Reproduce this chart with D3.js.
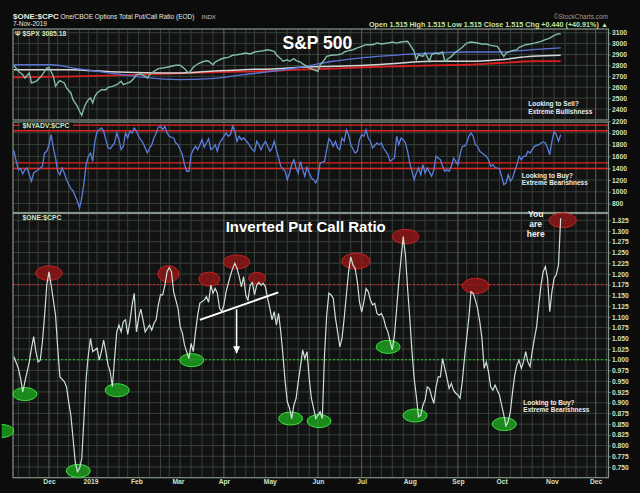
<!DOCTYPE html>
<html>
<head>
<meta charset="utf-8">
<script src="https://cdn.jsdelivr.net/npm/d3@7"></script>
<style>
  body { margin: 0; background: #0c0c0c; }
  svg { display: block; font-family: "Liberation Sans", Arial, sans-serif; }
</style>
</head>
<body>
<svg id="chart" width="640" height="493"></svg>
<script>
// trading calendar (x axis is trading days, StockCharts style)
const firstDay = "2018-11-08";
const lastDay = "2019-12-13";
const holidays = ["2018-11-22", "2018-12-05", "2018-12-25", "2019-01-01", "2019-01-21", "2019-02-18",
  "2019-04-19", "2019-05-27", "2019-07-04", "2019-09-02", "2019-11-28"];

// $SPX close, [trading day, value]
const spxClose = [[0,2801],[2,2746],[4,2715],[5,2684],[7,2730],[8,2639],[10,2654],[11,2669],[13,2715],[14,2746],
  [15,2776],[16,2783],[18,2700],[19,2608],[20,2639],[21,2660],[23,2639],[24,2593],[26,2547],[27,2485],[29,2425],
  [30,2379],[31,2342],[32,2409],[33,2455],[34,2485],[35,2501],[36,2455],[37,2517],[38,2547],[40,2577],[42,2577],
  [43,2599],[45,2608],[47,2623],[49,2654],[50,2623],[52,2639],[53,2645],[55,2684],[56,2715],[58,2721],[60,2700],
  [61,2684],[62,2715],[64,2746],[66,2770],[68,2776],[70,2783],[72,2792],[74,2801],[76,2801],[78,2770],[79,2746],
  [80,2730],[82,2783],[84,2813],[86,2831],[88,2843],[89,2838],[91,2806],[92,2831],[94,2852],[96,2868],[98,2874],
  [100,2893],[102,2898],[104,2905],[106,2914],[108,2905],[110,2923],[112,2929],[114,2935],[116,2944],[119,2929],
  [120,2898],[122,2862],[123,2838],[125,2852],[126,2838],[128,2862],[129,2843],[131,2831],[132,2813],[134,2792],
  [135,2776],[139,2746],[140,2806],[142,2852],[143,2883],[145,2893],[148,2898],[150,2905],[151,2923],[153,2935],
  [155,2944],[157,2960],[159,2975],[161,2990],[164,2990],[166,3005],[168,2996],[171,3005],[173,3015],[175,3005],
  [177,3015],[180,3021],[181,2990],[183,2929],[184,2852],[185,2898],[187,2883],[188,2914],[190,2838],[191,2898],
  [193,2914],[194,2905],[196,2923],[197,2838],[199,2868],[200,2883],[202,2923],[203,2935],[205,2966],[207,3005],
  [209,3015],[212,3005],[214,2996],[216,2996],[218,2984],[221,2975],[222,2944],[224,2883],[225,2914],[227,2929],
  [228,2935],[230,2944],[231,2966],[234,2990],[236,2996],[238,3005],[241,3021],[243,3036],[245,3051],[247,3076],
  [248,3082],[249,3091],[250,3085]];
const spxMaBlue = [[0,2806],[17,2806],[29,2770],[44,2730],[59,2691],[75,2669],[90,2678],[105,2715],[120,2751],
  [131,2783],[146,2838],[161,2874],[177,2898],[192,2914],[207,2923],[222,2923],[237,2944],[250,2960]];
const spxMaWhite = [[0,2761],[26,2761],[44,2742],[60,2733],[75,2730],[90,2746],[105,2761],[120,2770],[131,2783],
  [146,2792],[161,2801],[177,2822],[192,2838],[207,2838],[222,2852],[237,2883],[250,2893]];
const spxMaRed = [[0,2691],[29,2700],[59,2715],[90,2737],[120,2751],[131,2761],[146,2770],[161,2783],[177,2792],
  [192,2801],[207,2806],[222,2822],[237,2838],[250,2840]];
const spxTicks = [2400, 2500, 2600, 2700, 2800, 2900, 3000, 3100];

// $NYADV:$CPC
const nyadvCpc = [[0,1697],[1,1517],[2,1375],[3,1392],[4,1302],[5,1375],[6,1403],[7,1290],[8,1178],[9,1319],
  [11,1375],[12,1403],[13,1432],[14,1658],[15,1686],[16,1798],[17,1968],[18,1742],[19,1573],[20,1347],[21,1290],
  [22,1403],[23,1319],[24,1205],[26,1053],[27,1019],[28,924],[29,839],[30,725],[31,895],[32,1149],[33,1459],
  [34,1602],[35,1658],[36,1517],[37,1856],[38,2025],[40,2081],[41,2025],[42,1883],[43,1742],[44,1731],[46,1827],
  [47,1997],[48,1883],[49,1714],[50,1771],[51,1997],[52,1912],[53,2025],[54,1997],[55,2081],[56,2025],[57,1941],
  [59,1827],[60,1742],[61,1658],[62,1742],[63,1798],[64,1912],[65,1997],[66,2093],[67,2110],[68,2053],[69,2110],
  [70,1997],[71,1941],[73,1912],[74,1827],[75,1798],[76,1714],[77,1629],[78,1459],[79,1347],[80,1347],[81,1629],
  [82,1714],[83,1771],[84,1714],[85,1798],[86,1883],[87,1754],[88,1827],[89,1900],[90,1714],[91,1742],[92,1798],
  [93,1686],[94,1827],[95,1883],[97,1997],[98,1941],[99,1968],[100,2110],[101,2025],[102,1856],[103,1941],
  [104,1883],[105,1912],[107,1827],[108,1771],[109,1714],[110,1686],[111,1856],[112,1798],[113,1714],[114,1798],
  [115,1856],[116,1771],[117,1686],[118,1742],[119,1856],[120,1714],[121,1573],[122,1432],[124,1347],[125,1205],
  [126,1319],[127,1459],[128,1544],[129,1403],[130,1319],[131,1517],[132,1375],[133,1263],[134,1415],[135,1319],
  [136,1234],[137,1205],[138,1149],[139,1234],[140,1488],[142,1517],[143,1714],[144,1900],[145,1856],[146,1771],
  [147,1856],[148,1742],[149,1714],[150,1912],[151,1856],[152,2053],[153,1968],[154,1798],[156,1658],[157,1686],
  [158,1883],[159,1968],[160,1941],[161,2053],[162,1912],[163,1856],[164,1742],[166,1827],[167,1798],[168,1827],
  [169,1742],[170,1686],[171,1629],[172,1517],[174,1573],[175,1941],[176,1798],[177,1912],[178,1883],[179,1827],
  [180,1686],[181,1488],[182,1347],[183,1205],[184,1319],[185,1403],[186,1290],[187,1459],[188,1319],[189,1403],
  [191,1263],[192,1375],[193,1602],[194,1573],[195,1544],[196,1432],[197,1347],[198,1375],[199,1347],[200,1432],
  [201,1573],[202,1517],[203,1459],[204,1629],[205,1771],[206,1771],[207,1827],[208,1941],[209,1997],[210,1941],
  [211,1798],[212,1771],[213,1686],[215,1629],[216,1602],[217,1544],[218,1432],[219,1459],[220,1415],[221,1403],
  [222,1392],[223,1263],[224,1120],[225,1149],[226,1290],[227,1178],[228,1234],[229,1347],[230,1459],[231,1602],
  [232,1544],[233,1602],[234,1602],[235,1686],[236,1658],[237,1714],[238,1771],[240,1798],[241,1827],[242,1844],
  [243,1827],[244,1742],[245,1629],[246,1856],[247,2025],[248,1968],[249,1856],[250,1968]];
const nyadvLevels = [2130, 2035, 1490, 1395];
const nyadvTicks = [800, 1000, 1200, 1400, 1600, 1800, 2000, 2200];

// $ONE:$CPC (inverted put/call ratio)
const oneCpc = [[0,1.007],[2,0.980],[3,0.957],[4,0.925],[5,0.949],[7,0.995],[8,1.027],[9,1.054],[10,1.019],
  [11,0.995],[12,0.999],[13,1.042],[14,1.104],[15,1.174],[16,1.205],[17,1.174],[19,1.104],[20,1.027],[21,0.960],
  [23,0.949],[24,0.937],[25,0.902],[26,0.871],[27,0.817],[28,0.762],[29,0.739],[30,0.747],[31,0.770],[32,0.863],
  [33,0.957],[34,1.011],[35,1.050],[36,1.019],[38,1.027],[39,0.999],[40,1.019],[41,1.046],[42,1.019],[43,0.988],
  [44,0.972],[45,0.937],[46,1.003],[47,1.065],[48,1.081],[49,1.065],[50,1.089],[51,1.093],[52,1.059],[53,1.089],
  [54,1.128],[55,1.155],[56,1.065],[57,1.097],[58,1.118],[59,1.093],[60,1.065],[62,1.081],[63,1.069],[64,1.085],
  [65,1.093],[66,1.128],[67,1.151],[68,1.151],[69,1.174],[70,1.205],[71,1.215],[72,1.205],[73,1.159],[75,1.120],
  [76,1.077],[77,1.062],[78,1.034],[80,1.003],[81,1.038],[82,1.019],[83,1.065],[84,1.104],[85,1.132],[87,1.139],
  [88,1.147],[89,1.134],[90,1.174],[91,1.155],[92,1.166],[93,1.155],[94,1.120],[95,1.112],[96,1.128],[97,1.159],
  [99,1.197],[100,1.213],[101,1.225],[102,1.213],[103,1.194],[104,1.170],[105,1.194],[106,1.151],[107,1.139],
  [108,1.174],[109,1.180],[110,1.151],[111,1.174],[112,1.180],[113,1.174],[114,1.178],[115,1.170],[116,1.143],
  [117,1.120],[118,1.093],[119,1.112],[120,1.081],[121,1.108],[122,1.065],[123,1.011],[124,0.949],[125,0.902],
  [126,0.887],[127,0.863],[128,0.894],[129,0.910],[130,0.949],[131,0.984],[132,1.023],[133,1.003],[134,1.019],
  [135,0.957],[136,0.910],[137,0.887],[138,0.863],[140,0.879],[141,0.863],[142,1.011],[143,1.104],[144,1.155],
  [145,1.151],[146,1.143],[147,1.097],[148,1.065],[149,1.030],[150,1.050],[151,1.097],[152,1.151],[153,1.205],
  [154,1.240],[155,1.221],[156,1.213],[157,1.182],[158,1.135],[159,1.111],[160,1.135],[161,1.166],[162,1.159],
  [163,1.139],[164,1.128],[165,1.131],[166,1.108],[167,1.104],[168,1.108],[169,1.097],[170,1.077],[171,1.065],
  [172,1.042],[173,1.023],[174,1.058],[175,1.120],[176,1.182],[177,1.236],[178,1.287],[179,1.244],[180,1.166],
  [181,1.097],[182,1.019],[183,0.957],[184,0.914],[185,0.867],[186,0.871],[187,0.894],[188,0.906],[189,0.937],
  [190,0.933],[191,0.914],[192,0.898],[193,0.937],[194,0.960],[195,0.960],[196,1.003],[197,0.980],[198,0.957],
  [199,0.933],[200,0.945],[201,0.929],[202,0.922],[203,0.918],[204,0.910],[205,0.949],[206,1.003],[207,1.050],
  [208,1.097],[209,1.159],[210,1.155],[211,1.139],[212,1.120],[213,1.089],[214,1.050],[215,0.980],[216,0.995],
  [217,0.972],[218,0.937],[219,0.929],[220,0.941],[221,0.929],[222,0.918],[223,0.894],[224,0.871],[225,0.846],
  [226,0.856],[227,0.879],[228,0.925],[229,0.964],[230,0.988],[231,0.999],[232,0.980],[233,0.995],[234,1.019],
  [235,0.995],[236,0.984],[237,1.019],[238,1.050],[239,1.077],[240,1.128],[241,1.174],[242,1.205],[243,1.217],
  [244,1.190],[245,1.112],[246,1.159],[247,1.190],[248,1.198],[249,1.221],[250,1.330]];
const oneSellLevel = 1.175;
const oneBuyLevel = 1.000;
const oneTicks = [0.750, 0.775, 0.800, 0.825, 0.850, 0.875, 0.900, 0.925, 0.950, 0.975, 1.000, 1.025, 1.050,
  1.075, 1.100, 1.125, 1.150, 1.175, 1.200, 1.225, 1.250, 1.275, 1.300, 1.325];

// annotations drawn on the put/call panel
const sellMarks = [[16.0,1.202],[70.6,1.200],[89.3,1.188],[101.8,1.228],[111.2,1.190],[156.4,1.230],[179.1,1.287],
  [211.1,1.172],[250.9,1.325]];
const sellMarkSize = [[13.3,7.3],[10.5,8.3],[10.5,7],[13.3,7],[8.5,5.8],[14.3,8],[13.3,7.3],[13.3,7.7],[13.7,7.3]];
const buyMarks = [[5.0,0.920],[29.4,0.741],[47.2,0.929],[81.3,0.999],[126.5,0.863],[139.5,0.857],[171.1,1.030],
  [183.4,0.870],[224.2,0.850],[-5.6,0.834]];
const trendLine = [[85.0,1.093],[120.9,1.157]];
const arrowLine = [[101.8,1.118],[101.8,1.015]];

const X0 = 13, X1 = 608.5;
const BG = "#121212", GRID = "#35403a", GRID_MONTH = "#56665b", BORDER = "#84968a", LABEL = "#cfe3c6";

// build trading days
const tradingDays = [];
for (let d = new Date(firstDay + "T00:00:00Z"); d <= new Date(lastDay + "T00:00:00Z"); d.setUTCDate(d.getUTCDate() + 1)) {
  const wd = d.getUTCDay();
  const iso = d.toISOString().slice(0, 10);
  if (wd > 0 && wd < 6 && !holidays.includes(iso)) tradingDays.push(new Date(d));
}
const monthStarts = [], weekStarts = [];
tradingDays.forEach((d, i) => {
  if (i === 0) return;
  const p = tradingDays[i - 1];
  if (d.getUTCMonth() !== p.getUTCMonth()) monthStarts.push(i);
  if (d.getUTCDay() < p.getUTCDay() || d - p > 3 * 864e5) weekStarts.push(i);
});
const monthFmt = i => tradingDays[i].getUTCMonth() === 0 ? String(tradingDays[i].getUTCFullYear())
  : d3.utcFormat("%b")(tradingDays[i]);

const svg = d3.select("#chart");
svg.append("rect").attr("width", 640).attr("height", 493).attr("fill", "#0c0c0c");

const x = d3.scaleLinear().domain([-0.45, 272.1]).range([X0, 609]);

let clipId = 0;
function makePanel(y0, y1, domain, ticks, fmt) {
  const y = d3.scaleLinear().domain(domain).range([y1, y0]);
  const g = svg.append("g");
  const id = "clip" + (clipId++);
  svg.append("clipPath").attr("id", id).append("rect")
    .attr("x", X0).attr("y", y0).attr("width", X1 - X0).attr("height", y1 - y0);
  g.append("rect").attr("x", X0).attr("y", y0).attr("width", X1 - X0).attr("height", y1 - y0).attr("fill", BG);
  const grid = g.append("g").attr("clip-path", `url(#${id})`);
  grid.selectAll(".h").data(ticks).join("line")
    .attr("x1", X0).attr("x2", X1).attr("y1", d => y(d)).attr("y2", d => y(d))
    .attr("stroke", GRID).attr("stroke-width", 1);
  grid.selectAll(".v").data(weekStarts).join("line")
    .attr("x1", d => x(d)).attr("x2", d => x(d)).attr("y1", y0).attr("y2", y1)
    .attr("stroke", d => monthStarts.includes(d) ? GRID_MONTH : GRID).attr("stroke-width", 1);
  const plot = g.append("g").attr("clip-path", `url(#${id})`);
  g.append("rect").attr("x", X0).attr("y", y0).attr("width", X1 - X0).attr("height", y1 - y0)
    .attr("fill", "none").attr("stroke", BORDER).attr("stroke-width", 1.2);
  const ax = svg.append("g").attr("transform", `translate(${X1},0)`)
    .call(d3.axisRight(y).tickValues(ticks).tickFormat(fmt).tickSize(2).tickPadding(1.5));
  ax.select(".domain").remove();
  ax.selectAll("line").attr("stroke", BORDER);
  ax.selectAll("text").attr("fill", LABEL).attr("font-size", 6.7).attr("font-weight", "bold");
  return {y, g, plot, clip: id};
}

const line = (y, curve) => d3.line().x(d => x(d[0])).y(d => y(d[1])).curve(curve || d3.curveLinear);

// ---- top panel: S&P 500
const spxP = makePanel(29, 120, [2299, 3134], spxTicks, d3.format("d"));
spxP.plot.append("path").datum(spxMaRed).attr("d", line(spxP.y, d3.curveMonotoneX))
  .attr("fill", "none").attr("stroke", "#d82020").attr("stroke-width", 1.8);
spxP.plot.append("path").datum(spxMaWhite).attr("d", line(spxP.y, d3.curveMonotoneX))
  .attr("fill", "none").attr("stroke", "#d6d6d6").attr("stroke-width", 1.5);
spxP.plot.append("path").datum(spxMaBlue).attr("d", line(spxP.y, d3.curveMonotoneX))
  .attr("fill", "none").attr("stroke", "#5a74d6").attr("stroke-width", 1.3);
spxP.plot.append("path").datum(spxClose).attr("d", line(spxP.y))
  .attr("fill", "none").attr("stroke", "#82bab0").attr("stroke-width", 1.4);
spxP.g.append("text").attr("x", 15).attr("y", 35.5).attr("fill", LABEL).attr("font-size", 6.8)
  .attr("font-weight", "bold").text("\u03A8 $SPX 3085.18");
spxP.g.append("text").attr("x", 282.5).attr("y", 48.7).attr("fill", "#ffffff").attr("font-size", 17.5)
  .attr("font-weight", "bold").text("S&P 500");
spxP.g.append("text").attr("x", 528.3).attr("y", 106.3).attr("fill", "#ececec").attr("font-size", 6.5)
  .attr("font-weight", "bold").text("Looking to Sell?");
spxP.g.append("text").attr("x", 528.3).attr("y", 114).attr("fill", "#ececec").attr("font-size", 6.5)
  .attr("font-weight", "bold").text("Extreme Bullishness");

// ---- middle panel: $NYADV:$CPC
const advP = makePanel(122, 212.5, [649, 2183], nyadvTicks, d3.format("d"));
advP.plot.selectAll(".lvl").data(nyadvLevels).join("line")
  .attr("x1", X0).attr("x2", X1).attr("y1", d => advP.y(d)).attr("y2", d => advP.y(d))
  .attr("stroke", "#e0261e").attr("stroke-width", 1.3);
advP.plot.append("path").datum(nyadvCpc).attr("d", line(advP.y))
  .attr("fill", "none").attr("stroke", "#5b7fdc").attr("stroke-width", 1.3);
advP.g.append("rect").attr("x", 20).attr("y", 122.6).attr("width", 53).attr("height", 6.4).attr("fill", BG);
advP.g.append("text").attr("x", 22.5).attr("y", 128).attr("fill", LABEL).attr("font-size", 6.8)
  .attr("font-weight", "bold").text("$NYADV:$CPC");
advP.g.append("text").attr("x", 521.7).attr("y", 178).attr("fill", "#ececec").attr("font-size", 6.5)
  .attr("font-weight", "bold").text("Looking to Buy?");
advP.g.append("text").attr("x", 521.7).attr("y", 185.3).attr("fill", "#ececec").attr("font-size", 6.5)
  .attr("font-weight", "bold").text("Extreme Bearishness");

// ---- bottom panel: inverted put/call ratio
const oneP = makePanel(213.5, 477.7, [0.7251, 1.3409], oneTicks, d3.format(".3f"));
oneP.plot.append("line").attr("x1", X0).attr("x2", X1)
  .attr("y1", oneP.y(oneSellLevel)).attr("y2", oneP.y(oneSellLevel))
  .attr("stroke", "#e02424").attr("stroke-width", 1).attr("stroke-dasharray", "2,2");
oneP.plot.append("line").attr("x1", X0).attr("x2", X1)
  .attr("y1", oneP.y(oneBuyLevel)).attr("y2", oneP.y(oneBuyLevel))
  .attr("stroke", "#22c422").attr("stroke-width", 1).attr("stroke-dasharray", "2,2");

const marks = svg.append("g");
svg.append("clipPath").attr("id", "edgeclip").append("rect").attr("x", 1.7).attr("y", 0).attr("width", 640).attr("height", 493);
marks.selectAll(".sell").data(sellMarks).join("ellipse")
  .attr("cx", d => x(d[0])).attr("cy", d => oneP.y(d[1]))
  .attr("rx", (d, i) => sellMarkSize[i][0]).attr("ry", (d, i) => sellMarkSize[i][1])
  .attr("fill", "#8c1616").attr("fill-opacity", 0.85).attr("stroke", "#c42222").attr("stroke-width", 1);
marks.selectAll(".buy").data(buyMarks).join("ellipse")
  .attr("clip-path", "url(#edgeclip)")
  .attr("cx", d => x(d[0])).attr("cy", d => oneP.y(d[1]))
  .attr("rx", 12).attr("ry", 6.5)
  .attr("fill", "#1d9e1d").attr("fill-opacity", 0.85).attr("stroke", "#3ee03e").attr("stroke-width", 1);

const botLine = svg.append("g").attr("clip-path", `url(#${oneP.clip})`);
botLine.append("path").datum(oneCpc).attr("d", line(oneP.y))
  .attr("fill", "none").attr("stroke", "#cfe0d8").attr("stroke-width", 1.2);
botLine.append("path").datum(trendLine).attr("d", line(oneP.y))
  .attr("fill", "none").attr("stroke", "#ffffff").attr("stroke-width", 2);
botLine.append("path").datum(arrowLine).attr("d", line(oneP.y))
  .attr("fill", "none").attr("stroke", "#ffffff").attr("stroke-width", 1.5);
const tip = arrowLine[1];
botLine.append("path")
  .attr("d", `M${x(tip[0]) - 3.5},${oneP.y(tip[1]) - 7}L${x(tip[0]) + 3.5},${oneP.y(tip[1]) - 7}L${x(tip[0])},${oneP.y(tip[1])}Z`)
  .attr("fill", "#ffffff");

oneP.g.append("text").attr("x", 22.5).attr("y", 220).attr("fill", LABEL).attr("font-size", 6.8)
  .attr("font-weight", "bold").text("$ONE:$CPC");
svg.append("text").attr("x", 225.7).attr("y", 232).attr("fill", "#ffffff").attr("font-size", 15)
  .attr("font-weight", "bold").text("Inverted Put Call Ratio");
const here = svg.append("text").attr("text-anchor", "middle").attr("fill", "#f2f2f2")
  .attr("font-size", 8.5).attr("font-weight", "bold");
["You", "are", "here"].forEach((t, i) => here.append("tspan").attr("x", 535.7).attr("y", [216.7, 227.3, 237.3][i]).text(t));
svg.append("text").attr("x", 523.3).attr("y", 405).attr("fill", "#ececec").attr("font-size", 6.5)
  .attr("font-weight", "bold").text("Looking to Buy?");
svg.append("text").attr("x", 523.3).attr("y", 412.3).attr("fill", "#ececec").attr("font-size", 6.5)
  .attr("font-weight", "bold").text("Extreme Bearishness");

// ---- x axis (month labels)
const xa = svg.append("g").attr("transform", "translate(0,477.7)")
  .call(d3.axisBottom(x).tickValues(monthStarts).tickFormat(monthFmt).tickSize(0).tickPadding(1.8));
xa.select(".domain").remove();
xa.selectAll("text").attr("fill", LABEL).attr("font-size", 6.7).attr("font-weight", "bold");

// ---- header
const hdr = svg.append("g");
hdr.append("text").attr("x", 13).attr("y", 19).attr("fill", "#e8e8e0").attr("font-size", 8)
  .attr("font-weight", "bold").text("$ONE:$CPC");
hdr.append("text").attr("x", 60.5).attr("y", 19).attr("fill", "#e8e8e0").attr("font-size", 6.5)
  .text("One/CBOE Options Total Put/Call Ratio (EOD)");
hdr.append("text").attr("x", 201.5).attr("y", 19).attr("fill", "#c8c8c8").attr("font-size", 6)
  .text("INDX");
hdr.append("text").attr("x", 13).attr("y", 26.3).attr("fill", "#e8e8e0").attr("font-size", 6.5)
  .text("7-Nov-2019");
hdr.append("text").attr("x", 608).attr("y", 18.5).attr("text-anchor", "end").attr("fill", "#9c9c9c")
  .attr("font-size", 6.5).text("\u00A9StockCharts.com");
hdr.append("text").attr("x", 369).attr("y", 26.5).attr("fill", "#bfe3a8").attr("font-size", 6.5)
  .attr("font-weight", "bold").attr("textLength", 239).attr("lengthAdjust", "spacingAndGlyphs")
  .text("Open 1.515  High 1.515  Low 1.515  Close 1.515  Chg +0.440 (+40.91%) \u25B2");
</script>
</body>
</html>
